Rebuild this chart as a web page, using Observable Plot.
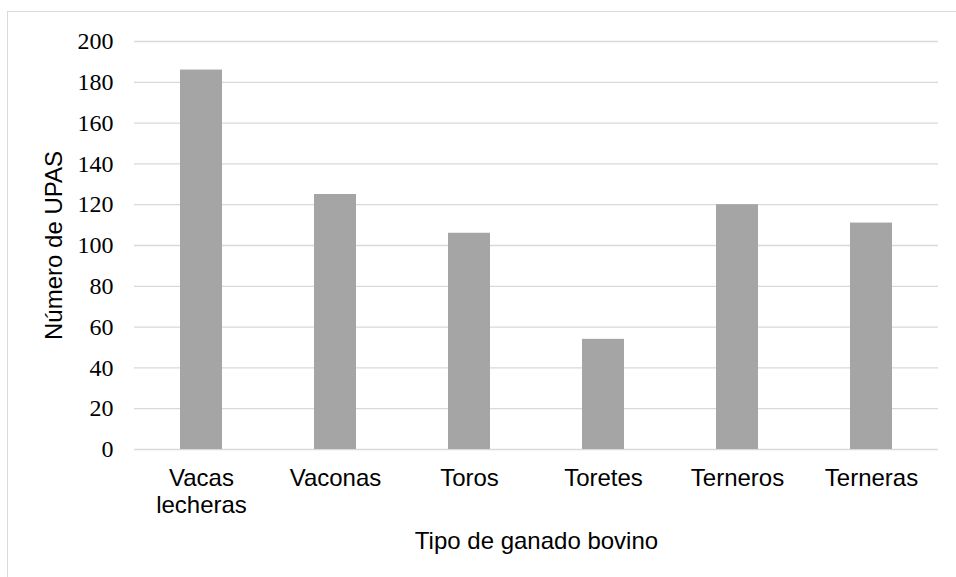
<!DOCTYPE html>
<html lang="es">
<head>
<meta charset="utf-8">
<title>Número de UPAS por tipo de ganado bovino</title>
<script src="https://cdn.jsdelivr.net/npm/d3@7"></script>
<script src="https://cdn.jsdelivr.net/npm/@observablehq/plot@0.6"></script>
<style>
  html, body { margin: 0; padding: 0; background: #fff; overflow: hidden; }
  #wrap { position: relative; width: 956px; height: 577px; }
  #frame {
    position: absolute; left: 7px; top: 11px; width: 1000px; height: 1000px;
    border: 1px solid #d9d9d9; box-sizing: border-box; pointer-events: none;
  }
  #chart svg { display: block; }
  #chart svg text.serif-num,
  #chart svg .serif-num text {
    font-family: "Liberation Serif", "Times New Roman", Times, "DejaVu Serif", serif !important;
  }
</style>
</head>
<body>
<div id="wrap">
  <div id="chart"></div>
  <div id="frame"></div>
</div>
<script>
// Cattle categories and number of production units (UPAs) for each
const categories = ["Vacas lecheras", "Vaconas", "Toros", "Toretes", "Terneros", "Terneras"];
const upas = [186, 125, 106, 54, 120, 111];
const tickLabels = ["Vacas\nlecheras", "Vaconas", "Toros", "Toretes", "Terneros", "Terneras"];
const yTicks = [0, 20, 40, 60, 80, 100, 120, 140, 160, 180, 200];

const data = categories.map((c, i) => ({category: c, value: upas[i]}));
const labelOf = new Map(categories.map((c, i) => [c, tickLabels[i]]));

const chart = Plot.plot({
  width: 956,
  height: 577,
  marginLeft: 134,
  marginRight: 18,
  marginTop: 41,
  marginBottom: 128,
  style: {fontFamily: "'Liberation Sans', Arial, sans-serif", fontSize: "24px", background: "#fff", color: "#000"},
  x: {domain: categories, paddingInner: 0.69, paddingOuter: 0.345, align: 0.5, axis: null},
  y: {domain: [0, 200], axis: null},
  marks: [
    Plot.gridY(yTicks, {stroke: "#d9d9d9", strokeOpacity: 1, strokeWidth: 1.3}),
    Plot.barY(data, {x: "category", y: "value", fill: "#a5a5a5"}),
    // value labels on the left, set in a serif face
    Plot.text(yTicks, {
      y: (d) => d, text: (d) => String(d), frameAnchor: "left", dx: -21,
      textAnchor: "end", lineAnchor: "middle", fontSize: 24, fill: "#000",
      fontFamily: "Liberation Serif, Times New Roman, DejaVu Serif, serif"
    }),
    Plot.axisX({
      tickSize: 0, tickPadding: 17, label: null,
      tickFormat: (d) => labelOf.get(d), lineHeight: 1.13,
      fontSize: 24, fill: "#000"
    }),
    Plot.text(["Número de UPAS"], {
      frameAnchor: "left", dx: -80, rotate: -90,
      textAnchor: "middle", lineAnchor: "middle", fontSize: 24, fill: "#000"
    }),
    Plot.text(["Tipo de ganado bovino"], {
      frameAnchor: "bottom", dy: 92,
      textAnchor: "middle", lineAnchor: "middle", fontSize: 24, fill: "#000"
    })
  ]
});

// tag the numeric value labels so the serif rule reaches them
d3.select(chart).selectAll("text")
  .filter(function () { return /^\d+$/.test(this.textContent.trim()); })
  .classed("serif-num", true)
  .style("font-family", '"Liberation Serif", "Times New Roman", Times, "DejaVu Serif", serif');

document.getElementById("chart").appendChild(chart);
</script>
</body>
</html>
